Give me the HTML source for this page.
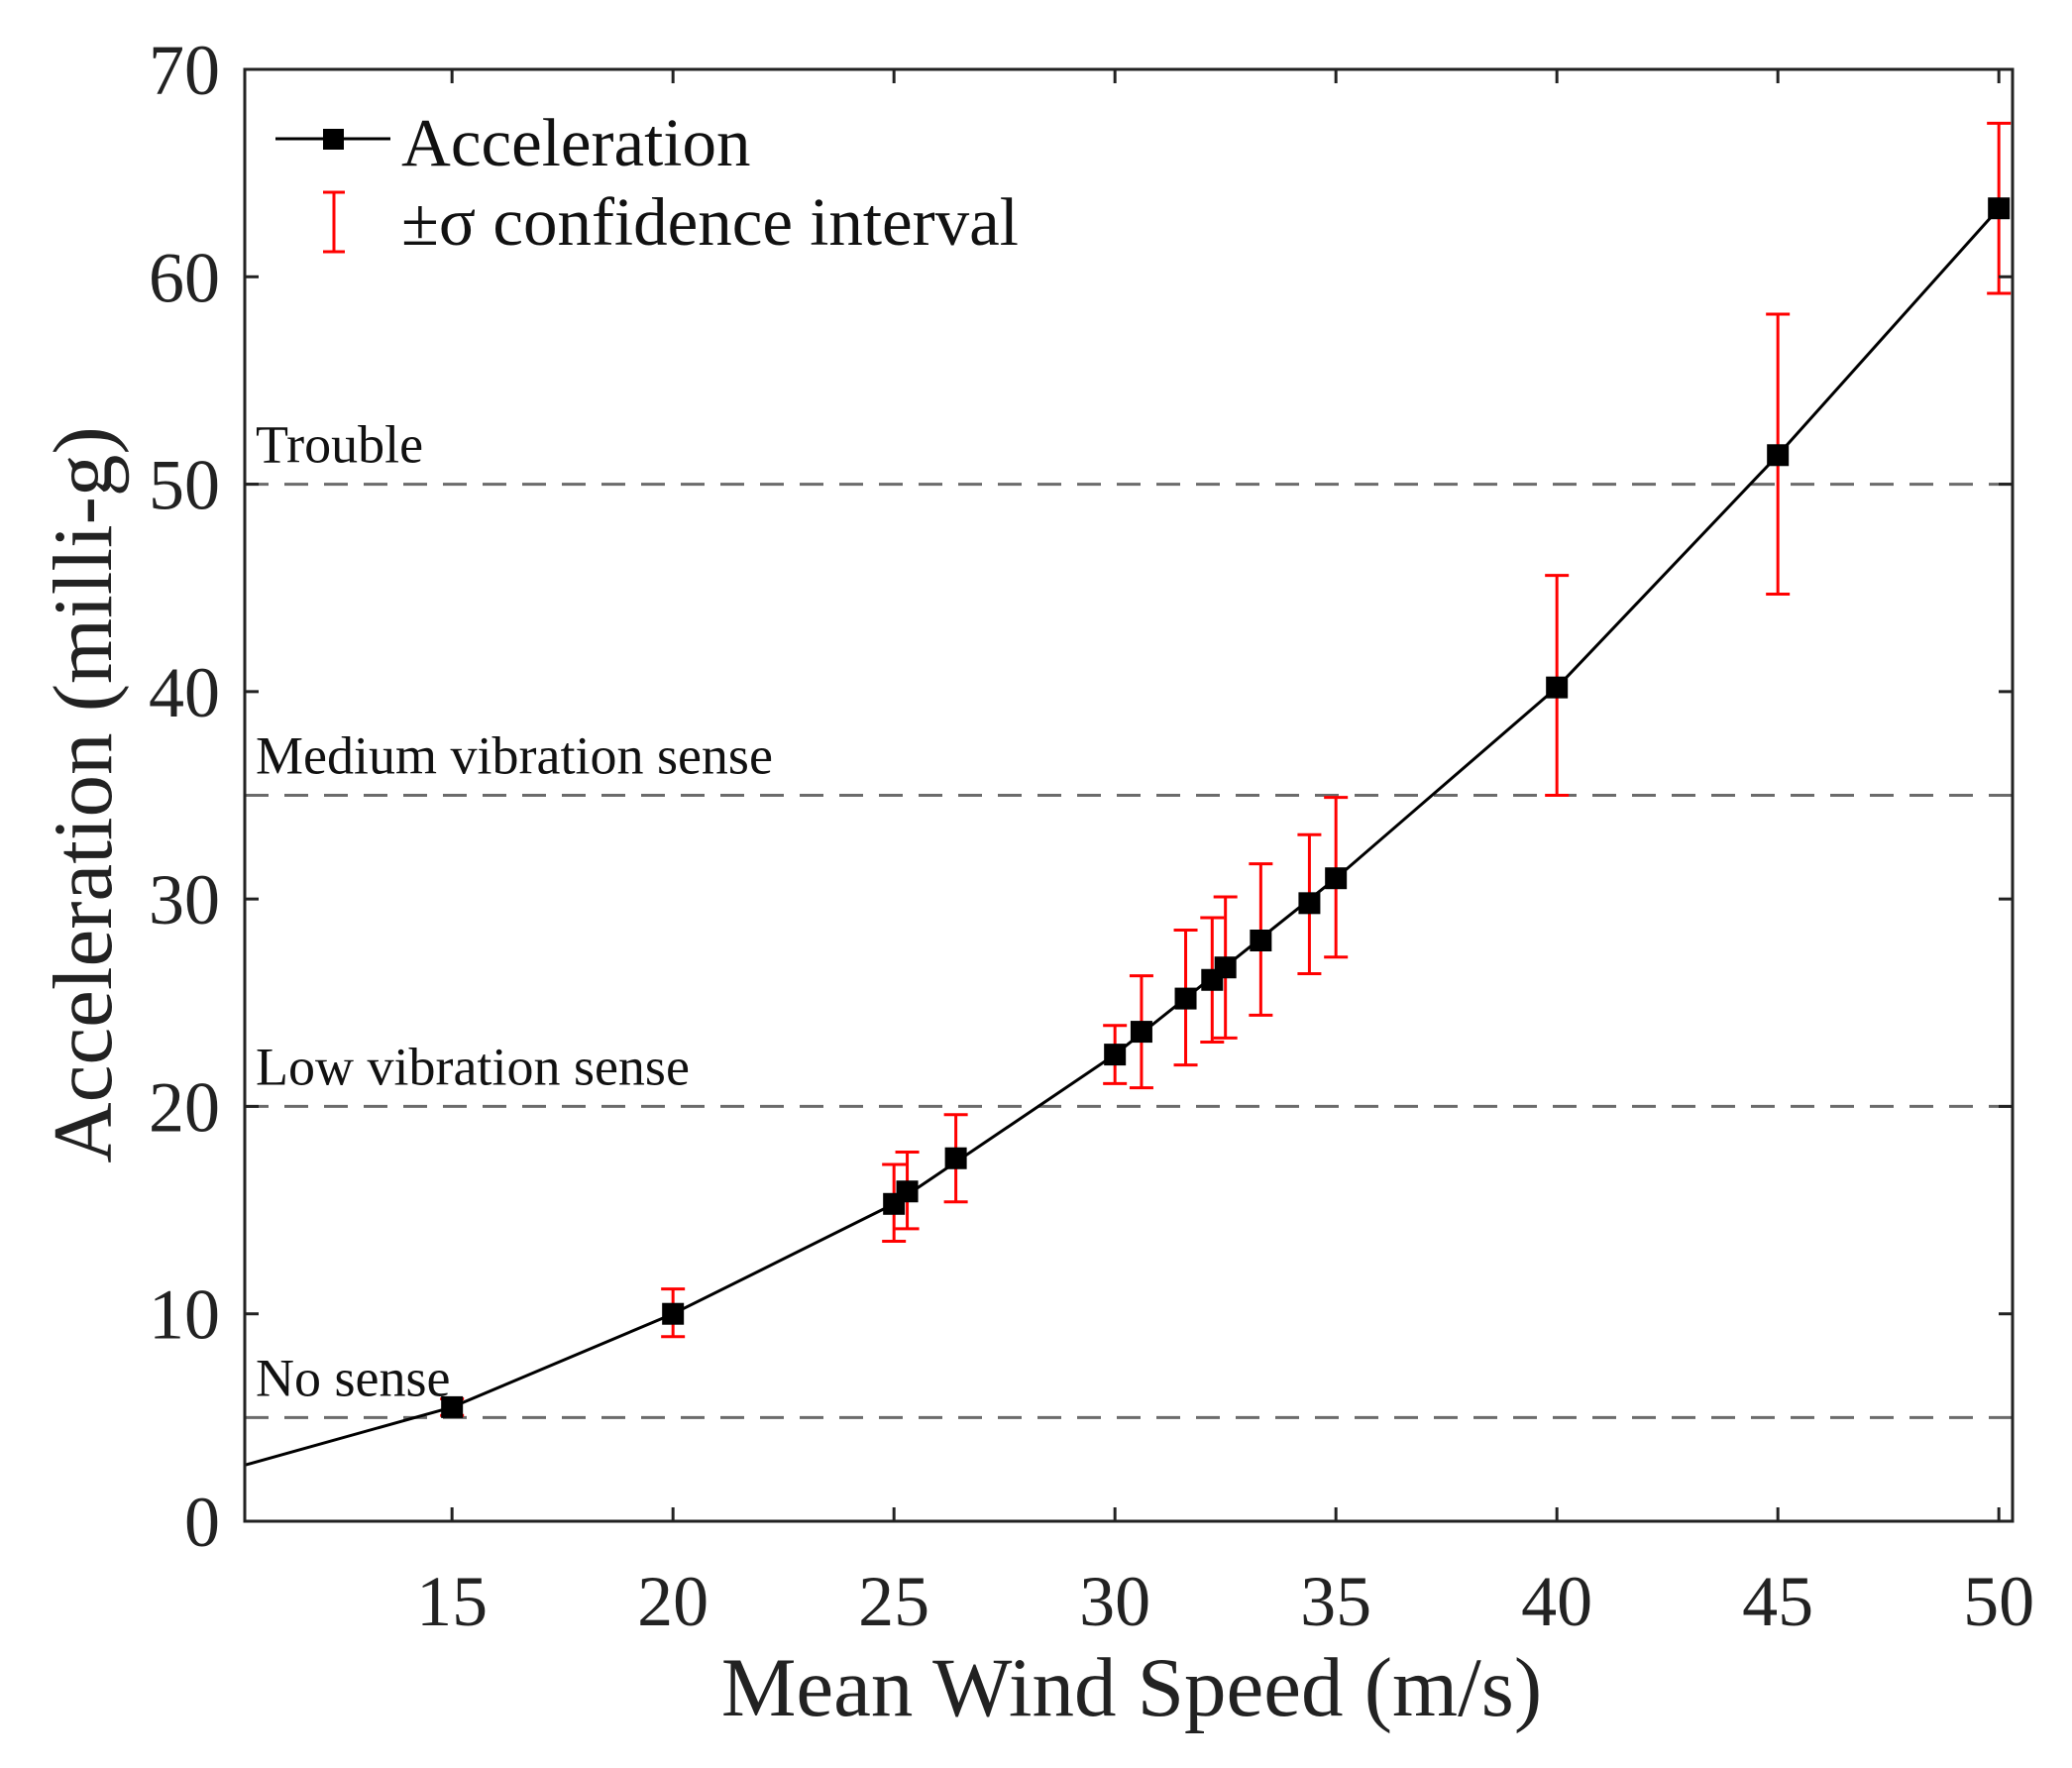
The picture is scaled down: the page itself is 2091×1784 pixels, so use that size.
<!DOCTYPE html>
<html><head><meta charset="utf-8"><style>
html,body{margin:0;padding:0;background:#fff;}
svg{display:block;font-family:"Liberation Serif",serif;}
</style></head><body>
<svg id="chart" width="2091" height="1784" viewBox="0 0 2091 1784" xmlns="http://www.w3.org/2000/svg">
<g id="grid"></g>
<g id="series"></g>
<rect x="247" y="70" width="1784" height="1465" fill="none" stroke="#222" stroke-width="3"/>
<g id="axes"></g>
<text x="1142" y="1731" font-size="85" text-anchor="middle" fill="#222">Mean Wind Speed (m/s)</text>
<text transform="translate(112,802) rotate(-90)" font-size="85" text-anchor="middle" fill="#222">Acceleration (milli-g)</text>
<g>
<line x1="278" y1="140" x2="394" y2="140" stroke="#000" stroke-width="3"/>
<rect x="326" y="130" width="21" height="21" fill="#000"/>
<text x="405" y="167" font-size="69" fill="#111">Acceleration</text>
<line x1="337" y1="194" x2="337" y2="254" stroke="#f00" stroke-width="3"/>
<line x1="326" y1="194" x2="348" y2="194" stroke="#f00" stroke-width="3"/>
<line x1="326" y1="254" x2="348" y2="254" stroke="#f00" stroke-width="3"/>
<text x="405" y="247" font-size="69" fill="#111">±σ confidence interval</text>
</g>
</svg>
<script>
const xs = [15, 20, 25, 25.3, 26.4, 30, 30.6, 31.6, 32.2, 32.5, 33.3, 34.4, 35, 40, 45, 50];
const ys = [5.5, 10, 15.3, 15.9, 17.5, 22.5, 23.6, 25.2, 26.1, 26.7, 28.0, 29.8, 31.0, 40.2, 51.4, 63.3];
const lows = [5.1, 8.9, 13.5, 14.1, 15.4, 21.1, 20.9, 22.0, 23.1, 23.3, 24.4, 26.4, 27.2, 35.0, 44.7, 59.2];
const highs = [5.9, 11.2, 17.2, 17.8, 19.6, 23.9, 26.3, 28.5, 29.1, 30.1, 31.7, 33.1, 34.9, 45.6, 58.2, 67.4];
const curveX = [10.3, 15, 20, 25, 30, 35, 40, 45, 50];
const curveY = [2.7, 5.5, 10, 15.3, 22.5, 31.0, 40.2, 51.4, 63.3];
const thresholds = [5, 20, 35, 50];
const thresholdLabels = ["No sense", "Low vibration sense", "Medium vibration sense", "Trouble"];
const xTicks = [15, 20, 25, 30, 35, 40, 45, 50];
const yTicks = [0, 10, 20, 30, 40, 50, 60, 70];

const X0 = 247, X1 = 2031, Y0 = 1535, Y1 = 70;
const xMin = 10.31, xMax = 50.31, yMin = 0, yMax = 70;
function sx(v){ return X0 + (v - xMin) / (xMax - xMin) * (X1 - X0); }
function sy(v){ return Y0 - (v - yMin) / (yMax - yMin) * (Y0 - Y1); }
const NS = "http://www.w3.org/2000/svg";
function mk(tag, attrs, parent){
  const e = document.createElementNS(NS, tag);
  for (const k in attrs) e.setAttribute(k, attrs[k]);
  parent.appendChild(e);
  return e;
}
const grid = document.getElementById('grid');
const series = document.getElementById('series');
const axes = document.getElementById('axes');

thresholds.forEach((t, i) => {
  const l = mk('line', {x1: X0, x2: X1, y1: sy(t), y2: sy(t), stroke: '#6b6b6b', 'stroke-width': 3, 'stroke-dasharray': '24 16'}, grid);
  
  
  const tx = mk('text', {x: 258, y: sy(t) - 22, 'font-size': 54, fill: '#111'}, grid);
  tx.textContent = thresholdLabels[i];
  
  
});

const pts = curveX.map((x, i) => sx(x) + ',' + sy(curveY[i])).join(' ');
const pl = mk('polyline', {points: pts, fill: 'none', stroke: '#000', 'stroke-width': 3, 'stroke-linejoin': 'round'}, series);



xs.forEach((x, i) => {
  const cx = sx(x);
  const eb = mk('g', {}, series);
  
  
  mk('line', {x1: cx, x2: cx, y1: sy(lows[i]), y2: sy(highs[i]), stroke: '#f00', 'stroke-width': 3}, eb);
  mk('line', {x1: cx - 12, x2: cx + 12, y1: sy(lows[i]), y2: sy(lows[i]), stroke: '#f00', 'stroke-width': 3}, eb);
  mk('line', {x1: cx - 12, x2: cx + 12, y1: sy(highs[i]), y2: sy(highs[i]), stroke: '#f00', 'stroke-width': 3}, eb);
  const m = mk('rect', {x: cx - 11, y: sy(ys[i]) - 11, width: 22, height: 22, fill: '#000'}, series);
  
  
});

xTicks.forEach(t => {
  const x = sx(t);
  mk('line', {x1: x, x2: x, y1: Y0, y2: Y0 - 14, stroke: '#222', 'stroke-width': 3}, axes);
  mk('line', {x1: x, x2: x, y1: Y1, y2: Y1 + 14, stroke: '#222', 'stroke-width': 3}, axes);
  const tx = mk('text', {x: x, y: 1640, 'font-size': 72, 'text-anchor': 'middle', fill: '#222'}, axes);
  tx.textContent = t;
  
  
});
yTicks.forEach(t => {
  const y = sy(t);
  mk('line', {x1: X0, x2: X0 + 14, y1: y, y2: y, stroke: '#222', 'stroke-width': 3}, axes);
  mk('line', {x1: X1, x2: X1 - 14, y1: y, y2: y, stroke: '#222', 'stroke-width': 3}, axes);
  const tx = mk('text', {x: 222, y: y + 25, 'font-size': 72, 'text-anchor': 'end', fill: '#222'}, axes);
  tx.textContent = t;
  
  
});
</script>
</body></html>
